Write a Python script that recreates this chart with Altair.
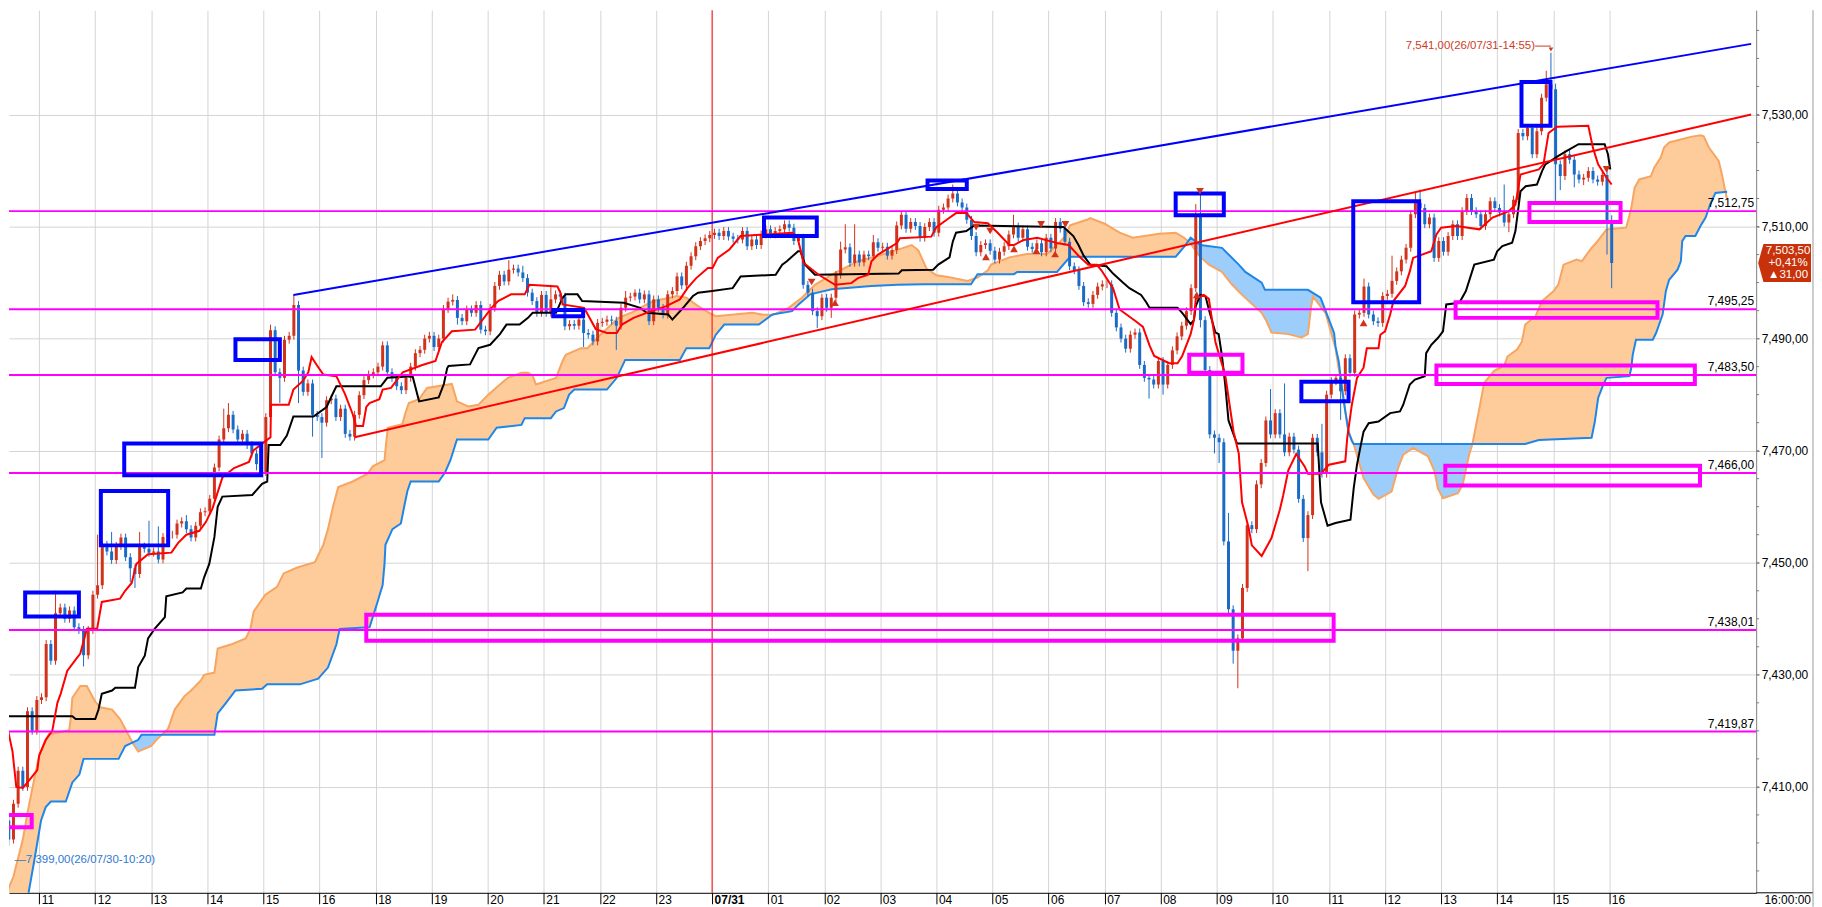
import json
import altair as alt
import numpy as np
import pandas as pd

FONT = "Liberation Sans"
UP = "#d2321b"
DN = "#1b6bc6"

# ---------------- 5-minute closes (index 0 = 26/07/30 10:20) ----------------
c_30_10 = [7404, 7400.6, 7407, 7412.9, 7410, 7423.5, 7420, 7425.5]
c_30_11 = [7426, 7435.5, 7432.5, 7441, 7442, 7440, 7441.5, 7438.5, 7438, 7433.5, 7438, 7444.3]
c_30_12 = [7446, 7453.2, 7452, 7450.5, 7453, 7454.5, 7451, 7449, 7448, 7452.9, 7452.5, 7451.8]
c_30_13 = [7452, 7450.6, 7454.6, 7455, 7455, 7457, 7457.4, 7456, 7454.5, 7456.6, 7459, 7459.2]
c_30_14 = [7461.4, 7467, 7472, 7474, 7476.4, 7473.8, 7472, 7473, 7471, 7469.5, 7467.6, 7466.2]
c_30_15 = [7476, 7491.5, 7484, 7483, 7489.8, 7490.5, 7496, 7484.3, 7480.5, 7482, 7476.4, 7476]
c_30_16 = [7475, 7479, 7479.3, 7476, 7477.5, 7473, 7472.5, 7476.4, 7479.9, 7482.6, 7483.6, 7484]
c_30_18 = [7485, 7488.8, 7484, 7483, 7481.5, 7480.8, 7483, 7485, 7487.4, 7488, 7490, 7490.5]
c_30_19 = [7488.5, 7490, 7495.3, 7496.6, 7496.9, 7493.7, 7493.1, 7495.2, 7494.6, 7496, 7491.6, 7491.3]
c_30_20 = [7495.5, 7499.4, 7501.4, 7500.2, 7502.3, 7502.5, 7501.8, 7500.8, 7498.2, 7496.7, 7494.6, 7497.8]
c_30_21 = [7494.6, 7497, 7497.9, 7497.5, 7492.2, 7492.6, 7492.3, 7493.4, 7491, 7490.7, 7489.5, 7492.8]
c_30_22 = [7493, 7493.4, 7493.2, 7492.3, 7495.5, 7497.3, 7497.5, 7498.2, 7497, 7497.9, 7493.1, 7497]
c_30_23 = [7495.5, 7494.3, 7497.9, 7498.5, 7501.1, 7499.5, 7503, 7504.7, 7506.5, 7507.4, 7507.9, 7508.5]
c_31_00 = [7508.9, 7508.3, 7509.2, 7508.2, 7507.8, 7507.7, 7509.2, 7506.5, 7507.7, 7506.7, 7508.6, 7509.5]
c_31_01 = [7508.6, 7509.2, 7509.5, 7510.4, 7509.8, 7507.4, 7508, 7499.6, 7498.2, 7494.9, 7494, 7497.3]
c_31_02 = [7495.5, 7497.3, 7501.4, 7505.9, 7506.3, 7503.5, 7505, 7503.6, 7505, 7504.7, 7507.2, 7506.2]
c_31_03 = [7506.4, 7504.8, 7505.8, 7510.2, 7512.1, 7509.6, 7510.8, 7510.1, 7508, 7509.9, 7510.8, 7508.9]
c_31_04 = [7513, 7513.4, 7515, 7515.9, 7514.3, 7513.4, 7511.2, 7508.3, 7505.4, 7506.7, 7507, 7505.7]
c_31_05 = [7504.1, 7505.5, 7506.5, 7508.6, 7510, 7508, 7509.5, 7506.4, 7506, 7507, 7505.4, 7508]
c_31_06 = [7506.1, 7510.8, 7509.6, 7507.3, 7502.9, 7502.2, 7499.4, 7496.5, 7496.2, 7497.8, 7499.3, 7499.7]
c_31_07 = [7499.7, 7494.6, 7492, 7490, 7488.2, 7490.7, 7491.1, 7485.3, 7483, 7482.7, 7481.8, 7486]
c_31_08 = [7481.8, 7485.3, 7487.9, 7490.4, 7492.3, 7494.9, 7499, 7511.8, 7493.3, 7484.4, 7472.9, 7472.3]
c_31_09 = [7471.5, 7453.8, 7441.7, 7434.3, 7436.5, 7445.5, 7456.7, 7456, 7464, 7467.8, 7475.4, 7472.9]
c_31_10 = [7476.7, 7472.9, 7469.7, 7472.5, 7470.2, 7461.4, 7454.4, 7458.5, 7472.3, 7469.7, 7465.9, 7480]
c_31_11 = [7482.4, 7483, 7480.6, 7486.5, 7483.9, 7494.3, 7494.6, 7499.3, 7494.3, 7493.1, 7492.8, 7497.6]
c_31_12 = [7498, 7500.3, 7502, 7504.1, 7506.2, 7512.2, 7514.2, 7513.3, 7510.4, 7511.6, 7504.4, 7507.4]
c_31_13 = [7505.5, 7508.3, 7510.4, 7508.3, 7512.75, 7515.1, 7512.75, 7512.2, 7510.1, 7512.2, 7514.5, 7513.3]
c_31_14 = [7512.5, 7510.7, 7512.2, 7514.8, 7526.7, 7526.1, 7527.6, 7522.9, 7527, 7533, 7535.4, 7534.5]
c_31_15 = [7521.1, 7519, 7522.9, 7521.9, 7519.3, 7518.4, 7518.7, 7519.9, 7518.4, 7518, 7519.2, 7511]
c_31_16 = [7503.5]
first_open = 7403

# notable wick extremes (index: price)
high_marks = {11: 7445, 20: 7455, 23: 7455.5, 29: 7455.5, 31: 7457.5, 33: 7456.5, 39: 7458.5,
              47: 7477.5, 48: 7478.5, 57: 7492.5, 62: 7497.8, 82: 7489.5, 96: 7497.9, 108: 7504,
              111: 7503, 117: 7499.6, 133: 7498.5, 135: 7498.8, 179: 7507.3, 180: 7510.4,
              182: 7510.4, 186: 7508.5, 203: 7517.5, 216: 7512.1, 226: 7511.5, 255: 7514,
              256: 7516.5, 262: 7458.9, 271: 7481, 274: 7482, 282: 7474.8, 291: 7500.7,
              297: 7504.8, 302: 7516, 303: 7516.6, 321: 7517.5, 330: 7537.8, 331: 7541,
              332: 7535.5, 335: 7523.8, 343: 7520.5, 344: 7512}
low_marks = {0: 7399, 1: 7399.5, 17: 7431.5, 27: 7446.5, 28: 7445.5, 54: 7466.5, 59: 7478.5,
             63: 7478.5, 66: 7472.5, 68: 7468.7, 97: 7492.5, 124: 7488.5, 131: 7488,
             174: 7491.9, 177: 7493.7, 245: 7479.3, 248: 7480, 256: 7492, 259: 7469.5,
             260: 7467.8, 263: 7432, 264: 7427.6, 279: 7448.5, 286: 7475.5, 322: 7509,
             332: 7514.5, 333: 7516.5, 336: 7517, 338: 7517.4, 343: 7505, 344: 7499}
wick = 0.7

# ---------------- Ichimoku lines (index, price) ----------------
tenkan = [(0.4,7421.8),(1.8,7416.3),(2.6,7410),(4,7409.8),(5,7410.8),(7.1,7413),(7.5,7415.6),(8.9,7418.4),
 (10.3,7420),(11.4,7425),(12.1,7426.6),(13.5,7430.7),(15.3,7432.7),(16.3,7433.8),(17.7,7438.2),(19.9,7438.2),
 (20.9,7443),(24.8,7443.6),(25.9,7445),(27.3,7446.4),(28.3,7449.8),(30.8,7451.5),(35.8,7451.8),(37.2,7453.5),
 (39,7455),(41.8,7455.7),(43.2,7457.3),(44.6,7459.7),(46.7,7465.2),(49.2,7466.9),(52.4,7468),(53.3,7470),
 (55.9,7471.7),(57,7472.4),(57.1,7478.2),(60.9,7478.2),(61.9,7480.9),(64,7482.5),(65.1,7484),(65.8,7486.7),
 (66.9,7485.3),(68.3,7483.6),(71.1,7483.3),(72.9,7480.2),(74.6,7476.5),(75.3,7474.4),(76.8,7474.4),(77.5,7477.8),
 (78.2,7478.5),(80.3,7479.2),(81,7480.9),(82.8,7481.2),(85.3,7484),(89.5,7485.3),(92.3,7486),(93.7,7489.4),
 (95.8,7491.3),(100.8,7491.6),(104.3,7495.5),(105.7,7496.7),(108.5,7497.9),(111.4,7497.9),(112.4,7499.6),
 (118.4,7499.3),(119.1,7498.1),(119.5,7496.1),(124.1,7495.5),(125.1,7494),(126.6,7491.7),(129,7491),
 (131.1,7491),(132.2,7492.5),(134.7,7493.7),(137.5,7494.6),(141.7,7495.8),(144.6,7497),(146.3,7499.1),
 (148.1,7500.8),(150.6,7502.6),(151.6,7502.6),(152.7,7504.4),(155.2,7505.9),(157.6,7508.3),(168.6,7508.9),
 (169.7,7508.3),(171.1,7503.5),(174.3,7501.4),(177.8,7499.6),(181.3,7499.9),(182.7,7500.8),(184.9,7501.4),
 (185.6,7503.8),(187,7505),(191,7507),(191.7,7507.9),(198.4,7508.2),(199.5,7509.9),(202,7511.4),(203.7,7512.4),
 (205.9,7512.4),(207.6,7510.8),(210.5,7510.6),(212.6,7508.9),(215.1,7506.7),(216.1,7506.7),(218.2,7507.6),
 (221.1,7508),(225.6,7507),(227.8,7506.7),(229.9,7504.8),(232,7503.2),(233.8,7503.2),(234.8,7502.2),
 (237.3,7499),(238.7,7495.2),(242.3,7493),(243.7,7492.1),(245.1,7488.8),(246.1,7486.9),(249.3,7485.6),
 (251.1,7485.6),(252.1,7486.9),(253.9,7490.8),(254.6,7493.3),(255,7497.1),(256.7,7497.8),(257.8,7497.1),
 (259.2,7489.4),(261.3,7483.5),(263.1,7473.3),(264.2,7469.5),(264.9,7460.8),(266.3,7456.3),(267,7453.1),
 (269.1,7451.2),(271.2,7454.4),(273,7459.5),(273.7,7462),(274.8,7466.5),(276.5,7469.4),(278.3,7467.2),
 (279,7465.9),(281.8,7465.9),(283.5,7467.5),(287,7468.1),(287.4,7472.2),(288.4,7478.2),(289.5,7483),
 (290.9,7484.8),(291.6,7488.3),(294.1,7488.3),(294.5,7490.7),(295.5,7491.3),(296.6,7494.3),(297.3,7496.7),
 (299.8,7499.4),(300.8,7502),(301.5,7504.4),(305.4,7505.6),(306.5,7508.6),(307.5,7509.8),(310.7,7510.1),
 (315.7,7509.5),(318.5,7511.6),(322,7512.75),(323.4,7513.9),(324.5,7519.3),(328.4,7520.2),(329.4,7521.1),
 (330.5,7526.7),(332.3,7527.8),(339,7528),(340,7524),(341.1,7521.1),(342.9,7518.7),(344,7517.5)]

kijun = [(0.4,7422.6),(14.6,7422.6),(15.3,7422.1),(19.5,7422.1),(20.2,7423.8),(20.9,7426.6),(23.1,7427.2),
 (23.8,7427.7),(28,7427.7),(28.7,7431.4),(30.1,7433.4),(30.8,7436.5),(32.2,7438.2),(34.4,7440.3),(34.7,7444),
 (38.2,7444.7),(39,7445.4),(42.1,7445.4),(42.8,7447.4),(43.9,7449.8),(45,7454.6),(45.7,7460),(46.7,7461.8),
 (53.1,7462.1),(55.2,7464.1),(56.3,7464.5),(56.6,7471),(59.1,7471),(60.5,7472.7),(61.9,7476.1),(66.2,7476.1),
 (69,7477.8),(70.4,7480.3),(71.1,7481.5),(80.6,7481.5),(82,7483),(87.4,7483.3),(88.8,7478.8),(93,7479.5),
 (94.1,7481.9),(94.8,7484.7),(95.1,7485.1),(99.7,7485.4),(101.5,7488.3),(104,7488.9),(106.1,7490.8),
 (107.5,7492.5),(110.3,7492.5),(112.1,7493.7),(113.1,7494.6),(118.1,7494.6),(119.5,7497.3),(120.2,7497.9),
 (122.7,7497.9),(123.7,7496.7),(132.6,7496.4),(136.1,7495.5),(137.5,7494.6),(142.1,7494.3),(143,7493.4),
 (145.3,7495.5),(147.4,7497.6),(148.5,7498.2),(151.5,7498.5),(155.9,7499),(157.6,7501.1),(165.1,7501.4),
 (166.5,7503.2),(167.5,7503.8),(169.9,7505.6),(170.4,7505.6),(171.4,7503.2),(173.5,7501.4),(191.4,7501.6),
 (192.1,7502.2),(198.8,7502.3),(199.9,7503.2),(202.3,7504.5),(203,7507.3),(203.7,7508.9),(205.9,7509.2),
 (207.6,7510.2),(226.7,7509.9),(228.8,7508.3),(229.9,7506.7),(231,7504.8),(232.4,7503.2),(235.9,7502.9),
 (237.3,7501.6),(239.4,7500),(240.8,7499),(243.3,7497.8),(244.4,7496.5),(245.1,7495.5),(251.1,7495.5),
 (252.1,7494.6),(253.9,7492.6),(254.6,7493.3),(255,7495.8),(256,7497.8),(257.1,7497.5),(257.8,7495.2),
 (259.2,7491.1),(259.9,7490.8),(260.6,7486.9),(261.3,7481.8),(262,7475.4),(263.8,7471.3),(281.1,7471.3),
 (281.8,7460.8),(283.2,7456.6),(284.9,7457.1),(288.1,7457.7),(288.8,7463.3),(289.5,7467.5),(290.2,7470.5),
 (290.9,7473.4),(292,7474.9),(294.1,7475.2),(296.6,7476.7),(298.7,7477),(299.4,7478.2),(300.8,7481.8),
 (301.9,7482.7),(304,7483.3),(304.3,7487.4),(305.4,7488.9),(306.8,7490.1),(307.9,7491.3),(308.6,7496.1),
 (311.4,7496.4),(312.8,7498.5),(314.6,7503.2),(318.8,7504.1),(319.5,7505.6),(320.6,7506.5),(322.7,7507.1),
 (323.4,7509.2),(324.5,7516.3),(325.6,7517.2),(328,7517.5),(329.1,7519.9),(329.8,7521.1),(332.6,7522.6),
 (334.4,7523.5),(336.9,7524.7),(342.5,7524.7),(343.2,7522.9),(343.7,7520.2)]

senkou_a = [(0,7390),(2,7394),(4,7400.6),(5,7405.4),(6.4,7411.2),(7.5,7415.6),(8.6,7417.7),(9.6,7419.4),
 (13.9,7420.1),(14.2,7421.8),(14.6,7425.9),(16.3,7428),(17.7,7428),(19.5,7425.2),(20.6,7424.2),(23.1,7423.8),
 (24.8,7422.1),(26.6,7419.3),(27.6,7417.7),(28.7,7416.3),(31.5,7417.3),(32.6,7418.4),(35.1,7420.4),
 (36.5,7423.8),(38.6,7426.2),(40,7427.2),(42.1,7429),(42.8,7430),(45,7430.4),(45.7,7434.7),(48.5,7435.4),
 (51.7,7436.5),(52.7,7438.2),(53.4,7441.3),(55.9,7444.3),(58.4,7445.7),(59.8,7448.1),(62.6,7449.1),
 (66.5,7450.1),(68.3,7453.2),(69.3,7456),(70.4,7460.1),(71.5,7463.5),(74.6,7464.5),(77.8,7465.9),
 (78.9,7467.2),(81.4,7468.3),(81.7,7471),(82.1,7474.1),(85.2,7474.7),(85.9,7476.8),(86.6,7478.5),
 (88.8,7479.2),(90.5,7481.2),(95.8,7481.9),(96.9,7478.8),(99.3,7477.9),(101.5,7478.2),(103.6,7480),
 (106.1,7481.8),(107.8,7483),(110.7,7483.9),(112.1,7483.9),(113.1,7483.4),(113.8,7481.8),(118.1,7483),
 (119.5,7486),(120.2,7487.1),(123.4,7488.3),(124.8,7488.3),(127.6,7490.7),(131.5,7493.7),(134.7,7494.8),
 (136.1,7495.5),(138.9,7496.7),(142.5,7497.3),(143.9,7497.6),(146,7497.3),(148.5,7495.8),(150.9,7494.6),
 (152.3,7494),(157.3,7494.4),(160.1,7494.6),(162.2,7494.3),(164.4,7494.2),(167.9,7495.5),(170.7,7497.3),
 (173.5,7499.6),(177.1,7501.4),(179.2,7502.3),(182.7,7503.8),(187.1,7504.8),(192.1,7506.1),(194.2,7506.7),
 (195.6,7505.8),(197.4,7502.5),(199.5,7501.3),(202,7501),(206.2,7500.3),(208.3,7500.9),(210.5,7502.2),
 (211.2,7503.2),(215.1,7504.5),(218.9,7505.1),(223.2,7505.1),(225.6,7507),(227.1,7508.3),(228.1,7510.2),
 (231.7,7511.2),(232.4,7511.5),(235.5,7510.5),(238.7,7508.9),(241.5,7508),(247.2,7508.7),(250.7,7508.9),
 (252.5,7508),(253.9,7507),(255.7,7504.8),(257.8,7503.2),(260.6,7501.9),(262.7,7499.7),(264.9,7497.8),
 (267,7496.2),(269.1,7494.6),(270.2,7493),(271.2,7491.1),(274.8,7490.8),(277.6,7490.2),(279,7490.8),
 (279.7,7495.8),(280.1,7497.5),(282.8,7494.5),(284.9,7488.3),(286.3,7480.8),(287.7,7473.2),(288.8,7471.2),
 (290.9,7465.1),(293,7462.2),(294.1,7461.4),(296.9,7462.7),(298.3,7466.9),(299.4,7469.3),(301.5,7470.5),
 (304.7,7469),(306.1,7466.3),(306.8,7463.3),(307.9,7461.5),(311.1,7462.4),(312.1,7463.9),(313.5,7469.3),
 (314.2,7471.2),(315.7,7477.6),(316.7,7482.1),(318.8,7484.2),(321,7485.2),(321.7,7486.8),(323.8,7488.1),
 (324.8,7489.5),(325.5,7492.5),(327.7,7494),(329.1,7496.7),(331.6,7498.5),(332.6,7499.7),(333.7,7503.2),
 (336.5,7504.1),(337.6,7503.8),(339.7,7506.2),(340.7,7507.1),(342.9,7509.5),(347.1,7509.8),(348.2,7513.3),
 (348.9,7516.9),(349.9,7518.4),(352.4,7519),(353.1,7520.5),(354.5,7522.3),(355.2,7524.1),(356.3,7525),
 (360.9,7526),(363,7526.3),(363.7,7526.1),(364.8,7524.1),(366.9,7521.7),(367.6,7519.3),(368.3,7516.3),
 (368.7,7514.8)]

senkou_b = [(0,7378),(5,7390),(6.4,7396.6),(7.9,7404),(8.9,7406.4),(10,7407.4),(13.2,7407.4),(14.6,7410.8),
 (16.1,7412.2),(17,7415),(24.5,7415),(25.9,7417.3),(28.7,7418.4),(29.4,7419.3),(45,7419.3),(45.7,7423.1),
 (47.4,7424.9),(49.5,7427.2),(55.2,7427.5),(56.3,7428.3),(63.3,7428.3),(67.2,7429.3),(69.3,7431.3),
 (71.1,7435.4),(71.8,7438.2),(78.2,7438.5),(79.9,7443),(81,7446),(81.4,7449.8),(81.6,7453.2),(83.1,7456),
 (84.9,7457),(85.6,7460),(86.3,7462.8),(87,7464.5),(93,7464.5),(94.4,7466.2),(95.5,7468.3),(96.9,7472),
 (103.6,7472),(105.4,7474.1),(110.7,7474.6),(111.4,7475.8),(117,7475.8),(118.1,7477),(119.8,7477.6),
 (120.9,7480),(122,7480.9),(129,7480.9),(131.1,7483),(132.9,7486.2),(144.6,7486.2),(146,7488.3),
 (150.9,7488.3),(152.3,7490.7),(154.1,7492.5),(161.5,7492.5),(164.4,7494.3),(168.6,7494.9),(170,7496.1),
 (172.5,7497.9),(177.1,7498.8),(185.6,7499.4),(191.2,7499.6),(197,7499.7),(206.9,7499.7),(208.3,7501.5),
 (216.1,7501.5),(216.8,7501.9),(225.3,7501.9),(228.1,7504.6),(250.7,7504.6),(252.8,7506.7),(253.9,7508),
 (256,7506.7),(260.6,7506.2),(264.2,7503.2),(265.6,7501.9),(269.1,7500),(269.8,7498.7),(279,7498.7),
 (281.7,7497.3),(282.8,7494.9),(284.6,7491),(284.9,7488.6),(285.6,7485.9),(286.3,7481.1),(287,7477),
 (287.7,7473.4),(288.4,7471.7),(288.8,7471.2),(325.5,7471.2),(328.4,7471.9),(339.7,7472.3),(340.4,7475.2),
 (341.1,7479.4),(342.2,7481.8),(342.9,7483),(347.8,7483.3),(348.2,7484.8),(348.5,7487.1),(349.2,7489.8),
 (352.8,7489.8),(353.5,7491),(354.9,7494.3),(355.6,7498.5),(356.3,7500.5),(358.1,7502.3),(358.8,7503.8),
 (359.1,7507.4),(359.8,7508.3),(361.9,7508.3),(363,7510.1),(364.1,7511.6),(365.1,7514),(366.2,7516),
 (368.7,7516.2)]

# ---------------- drawn objects ----------------
level_prices = [7512.75, 7495.25, 7483.50, 7466.00, 7438.01, 7419.87]
level_labels = ["7,512,75", "7,495,25", "7,483,50", "7,466,00", "7,438,01", "7,419,87"]

magenta_boxes = [(0.0, 5.9, 7402.8, 7405.0), (77.5, 284.5, 7436.1, 7440.7), (253.6, 265.0, 7483.9, 7487.1),
                 (326.4, 345.9, 7510.8, 7514.2), (310.6, 353.8, 7493.7, 7496.5), (306.5, 361.8, 7481.9, 7485.2),
                 (308.4, 362.9, 7463.8, 7467.3)]
blue_boxes = [(4.5, 16.0, 7440.4, 7444.7), (20.7, 35.1, 7453.1, 7462.8), (25.7, 55.0, 7465.6, 7471.3),
              (49.5, 59.0, 7486.2, 7489.9), (117.5, 123.9, 7494.0, 7495.1), (162.6, 173.9, 7508.3, 7511.6),
              (197.6, 206.0, 7516.7, 7518.2), (250.7, 261.0, 7512.0, 7515.9), (277.6, 287.7, 7478.8, 7482.3),
              (288.7, 302.8, 7496.5, 7514.5), (324.7, 330.9, 7528.0, 7535.8)]

trend_upper = [(61.9, 7497.8), (373.85, 7542.6)]
trend_lower = [(75.0, 7472.4), (373.85, 7530.0)]

sig_down = [(172.8, 7500.1), (208, 7509.9), (211, 7509.2), (221.9, 7510.4), (227.1, 7510.4), (255.9, 7516.3), (342.9, 7520.2)]
sig_up = [(177.8, 7496.4), (210.1, 7504.6), (216.1, 7506.0), (220.9, 7505.7), (224.9, 7505.1), (255.2, 7497.8), (290.9, 7492.8)]

tick_vals = [7.5 + 12 * k for k in range(29)]
tick_text = ["11", "12", "13", "14", "15", "16", "18", "19", "20", "21", "22", "23", "07/31",
             "01", "02", "03", "04", "05", "06", "07", "08", "09", "10", "11", "12", "13", "14", "15", "16"]
date_tick = 151.5
y_labels = [7410, 7430, 7450, 7470, 7490, 7510, 7530]
y_minor = list(range(7395, 7550, 5))

last_price = 7503.5
badge_text = ["7,503,50", "+0,41%", "▲31,00"]
high_note = "7,541,00(26/07/31-14:55)"
high_point = (331, 7541.0)
low_note = "—7,399,00(26/07/30-10:20)"
low_point = (2.2, 7397.0)

# ---------------- tables ----------------
closes = (c_30_10 + c_30_11 + c_30_12 + c_30_13 + c_30_14 + c_30_15 + c_30_16 + c_30_18 + c_30_19 +
          c_30_20 + c_30_21 + c_30_22 + c_30_23 + c_31_00 + c_31_01 + c_31_02 + c_31_03 + c_31_04 +
          c_31_05 + c_31_06 + c_31_07 + c_31_08 + c_31_09 + c_31_10 + c_31_11 + c_31_12 + c_31_13 +
          c_31_14 + c_31_15 + c_31_16)
opens = [first_open] + closes[:-1]
rows = []
for i, (o, c) in enumerate(zip(opens, closes)):
    h = max(high_marks.get(i, max(o, c) + wick), o, c)
    l = min(low_marks.get(i, min(o, c) - wick), o, c)
    rows.append(dict(i=i, o=o, c=c, h=h, l=l, d="up" if c >= o else "down"))
candles = pd.DataFrame(rows)

def vdf(pts):
    return pd.DataFrame(pts, columns=["i", "p"])

grid = np.linspace(0, 368.7, 1476)
ai, ap = zip(*senkou_a)
bi, bp = zip(*senkou_b)
A = np.interp(grid, ai, ap)
B = np.interp(grid, bi, bp)
cloud = pd.DataFrame(dict(i=grid, a=A, b=B, lo=np.minimum(A, B)))

boxes = pd.DataFrame([dict(x1=b[0], x2=b[1], y1=b[2], y2=b[3], col="#ff00ff") for b in magenta_boxes] +
                     [dict(x1=b[0], x2=b[1], y1=b[2], y2=b[3], col="#0000ff") for b in blue_boxes])
levels = pd.DataFrame(dict(p=level_prices, t=level_labels))
sigs = pd.DataFrame([dict(i=a, p=b, k="dn") for a, b in sig_down] + [dict(i=a, p=b, k="up") for a, b in sig_up])

# ---------------- scales & axes ----------------
W, H = 1752, 885
xs = alt.Scale(domain=[2.11, 373.85], nice=False, zero=False)
ys = alt.Scale(domain=[7391.1, 7548.6], nice=False, zero=False)

label_expr = f"{json.dumps(tick_text)}[indexof({json.dumps(tick_vals)}, datum.value)]"
X_AX = alt.Axis(values=tick_vals, labelExpr=label_expr, grid=True, gridColor="#d4d4d4", gridWidth=1,
                domainColor="#000000", domainWidth=1, tickColor="#000000", tickSize=11, tickWidth=1,
                labelAlign="left", labelBaseline="top", labelPadding=-9, labelOffset=2,
                labelFont=FONT, labelFontSize=12, labelColor="#000000", labelOverlap=False,
                labelFlush=False, title=None,
                labelFontWeight={"condition": {"test": f"datum.value == {date_tick}", "value": "bold"},
                                 "value": "normal"})
Y_AX = alt.Axis(orient="right", values=y_labels,
                labelExpr="replace(format(datum.value, ',.2f'), '.', ',')",
                grid=True, gridColor="#d4d4d4", gridWidth=1, domainColor="#7f7f7f", tickColor="#7f7f7f",
                tickSize=3, labelPadding=2, labelFont=FONT, labelFontSize=12, labelColor="#000000",
                labelBaseline="middle", title=None)

def X(f="i"):
    return alt.X(f"{f}:Q", scale=xs, axis=X_AX)

def Y(f="p"):
    return alt.Y(f"{f}:Q", scale=ys, axis=Y_AX)

# ---------------- layers ----------------
fill_orange = alt.Chart(cloud).mark_area(color="#fecb9b", opacity=1, clip=True).encode(
    x=X(), y=Y("a"), y2="lo:Q")
fill_blue = alt.Chart(cloud).mark_area(color="#9dcdfb", opacity=1, clip=True).encode(
    x=X(), y=Y("b"), y2="lo:Q")
line_a = alt.Chart(vdf(senkou_a)).mark_line(color="#f7a561", strokeWidth=2, clip=True).encode(x=X(), y=Y())
line_b = alt.Chart(vdf(senkou_b)).mark_line(color="#1d86e8", strokeWidth=2, clip=True).encode(x=X(), y=Y())

date_rule = alt.Chart(pd.DataFrame(dict(i=[date_tick]))).mark_rule(color="#ff0000", strokeWidth=1).encode(x=X())

level_rules = alt.Chart(levels).mark_rule(color="#ff00ff", strokeWidth=2).encode(y=Y())

cscale = alt.Scale(domain=["up", "down"], range=[UP, DN])
wicks = alt.Chart(candles).mark_rule(strokeWidth=1, clip=True).encode(
    x=X(), y=Y("l"), y2="h:Q", color=alt.Color("d:N", scale=cscale, legend=None))
bodies = alt.Chart(candles).mark_bar(size=3, clip=True).encode(
    x=X(), y=Y("o"), y2="c:Q", color=alt.Color("d:N", scale=cscale, legend=None))

line_k = alt.Chart(vdf(kijun)).mark_line(color="#000000", strokeWidth=2, clip=True).encode(x=X(), y=Y())
line_t = alt.Chart(vdf(tenkan)).mark_line(color="#ff0000", strokeWidth=2, clip=True).encode(x=X(), y=Y())

tr_up = alt.Chart(vdf(trend_upper)).mark_line(color="#0000ff", strokeWidth=2, clip=True).encode(x=X(), y=Y())
tr_lo = alt.Chart(vdf(trend_lower)).mark_line(color="#ff0000", strokeWidth=2, clip=True).encode(x=X(), y=Y())

box_layer = alt.Chart(boxes).mark_rect(filled=False, strokeWidth=4, clip=True).encode(
    x=X("x1"), x2="x2:Q", y=Y("y1"), y2="y2:Q", color=alt.Color("col:N", scale=None))

sig_layer = alt.Chart(sigs).mark_point(filled=True, size=60, opacity=1).encode(
    x=X(), y=Y(),
    shape=alt.Shape("k:N", scale=alt.Scale(domain=["dn", "up"], range=["triangle-down", "triangle-up"]), legend=None),
    color=alt.Color("k:N", scale=alt.Scale(domain=["dn", "up"], range=["#1a3fe0", "#ff1a1a"]), legend=None))

level_text = alt.Chart(levels).mark_text(align="right", baseline="bottom", dy=-1, font=FONT, fontSize=12,
                                         color="#000000").encode(x=alt.value(W - 2), y=Y(), text="t:N")

hp = pd.DataFrame(dict(i=[high_point[0] - 3.4], i2=[high_point[0]], p=[high_point[1] + 1.2]))
high_txt = alt.Chart(hp).mark_text(align="right", baseline="middle", font=FONT, fontSize=11.5,
                                   color="#cc3d1f", text=high_note).encode(x=X(), y=Y())
high_lead = alt.Chart(hp).mark_rule(color="#cc3d1f", strokeWidth=1).encode(x=X(), x2="i2:Q", y=Y())
high_arrow = alt.Chart(pd.DataFrame(dict(i=[high_point[0]], p=[high_point[1] + 0.6]))).mark_point(
    shape="triangle-down", filled=True, size=22, color="#cc3d1f", opacity=1).encode(x=X(), y=Y())

low_txt = alt.Chart(pd.DataFrame(dict(i=[low_point[0]], p=[low_point[1]]))).mark_text(
    align="left", baseline="middle", font=FONT, fontSize=11.5, color="#2f78d0", text=low_note).encode(x=X(), y=Y())

minor = alt.Chart(pd.DataFrame(dict(p=y_minor))).mark_rule(color="#7f7f7f", strokeWidth=1).encode(
    x=alt.value(W), x2=alt.value(W + 3), y=Y())
axis_ext = alt.Chart(pd.DataFrame(dict(p=[0]))).mark_rule(color="#000000", strokeWidth=1).encode(
    x=alt.value(W), x2=alt.value(1809), y=alt.value(H))
border = alt.Chart(pd.DataFrame(dict(p=[0]))).mark_rule(color="#9a9a9a", strokeWidth=1).encode(
    x=alt.value(1809), y=alt.value(0), y2=alt.value(H + 14))
end_time = alt.Chart(pd.DataFrame(dict(p=[0]))).mark_text(
    align="right", baseline="top", font=FONT, fontSize=12, color="#000000", text="16:00:00").encode(
    x=alt.value(1807), y=alt.value(H + 2))

BADGE = "M -1 0 L -0.8 -0.72 L 1 -0.72 L 1 0.72 L -0.8 0.72 Z"
lp = pd.DataFrame(dict(p=[last_price]))
badge = alt.Chart(lp).mark_point(shape=BADGE, size=53 * 53, filled=True, color="#c8320a", opacity=1,
                                 strokeWidth=0).encode(x=alt.value(W + 28.5), y=Y())
badge_txt = alt.Chart(lp).mark_text(text=badge_text, align="center", baseline="middle", lineHeight=12,
                                    dy=-12, font=FONT, fontSize=11.5, color="#ffffff").encode(
    x=alt.value(W + 32), y=Y())

chart = alt.layer(
    fill_orange, fill_blue, line_a, line_b, date_rule, wicks, bodies, line_k, line_t,
    level_rules, tr_up, tr_lo, box_layer, sig_layer, level_text, high_lead, high_arrow, high_txt,
    low_txt, minor, axis_ext, border, end_time, badge, badge_txt
).properties(width=W, height=H, padding=0, background="#ffffff").configure_view(stroke=None)

chart.save("out.html", embed_options={"renderer": "svg", "actions": False})
